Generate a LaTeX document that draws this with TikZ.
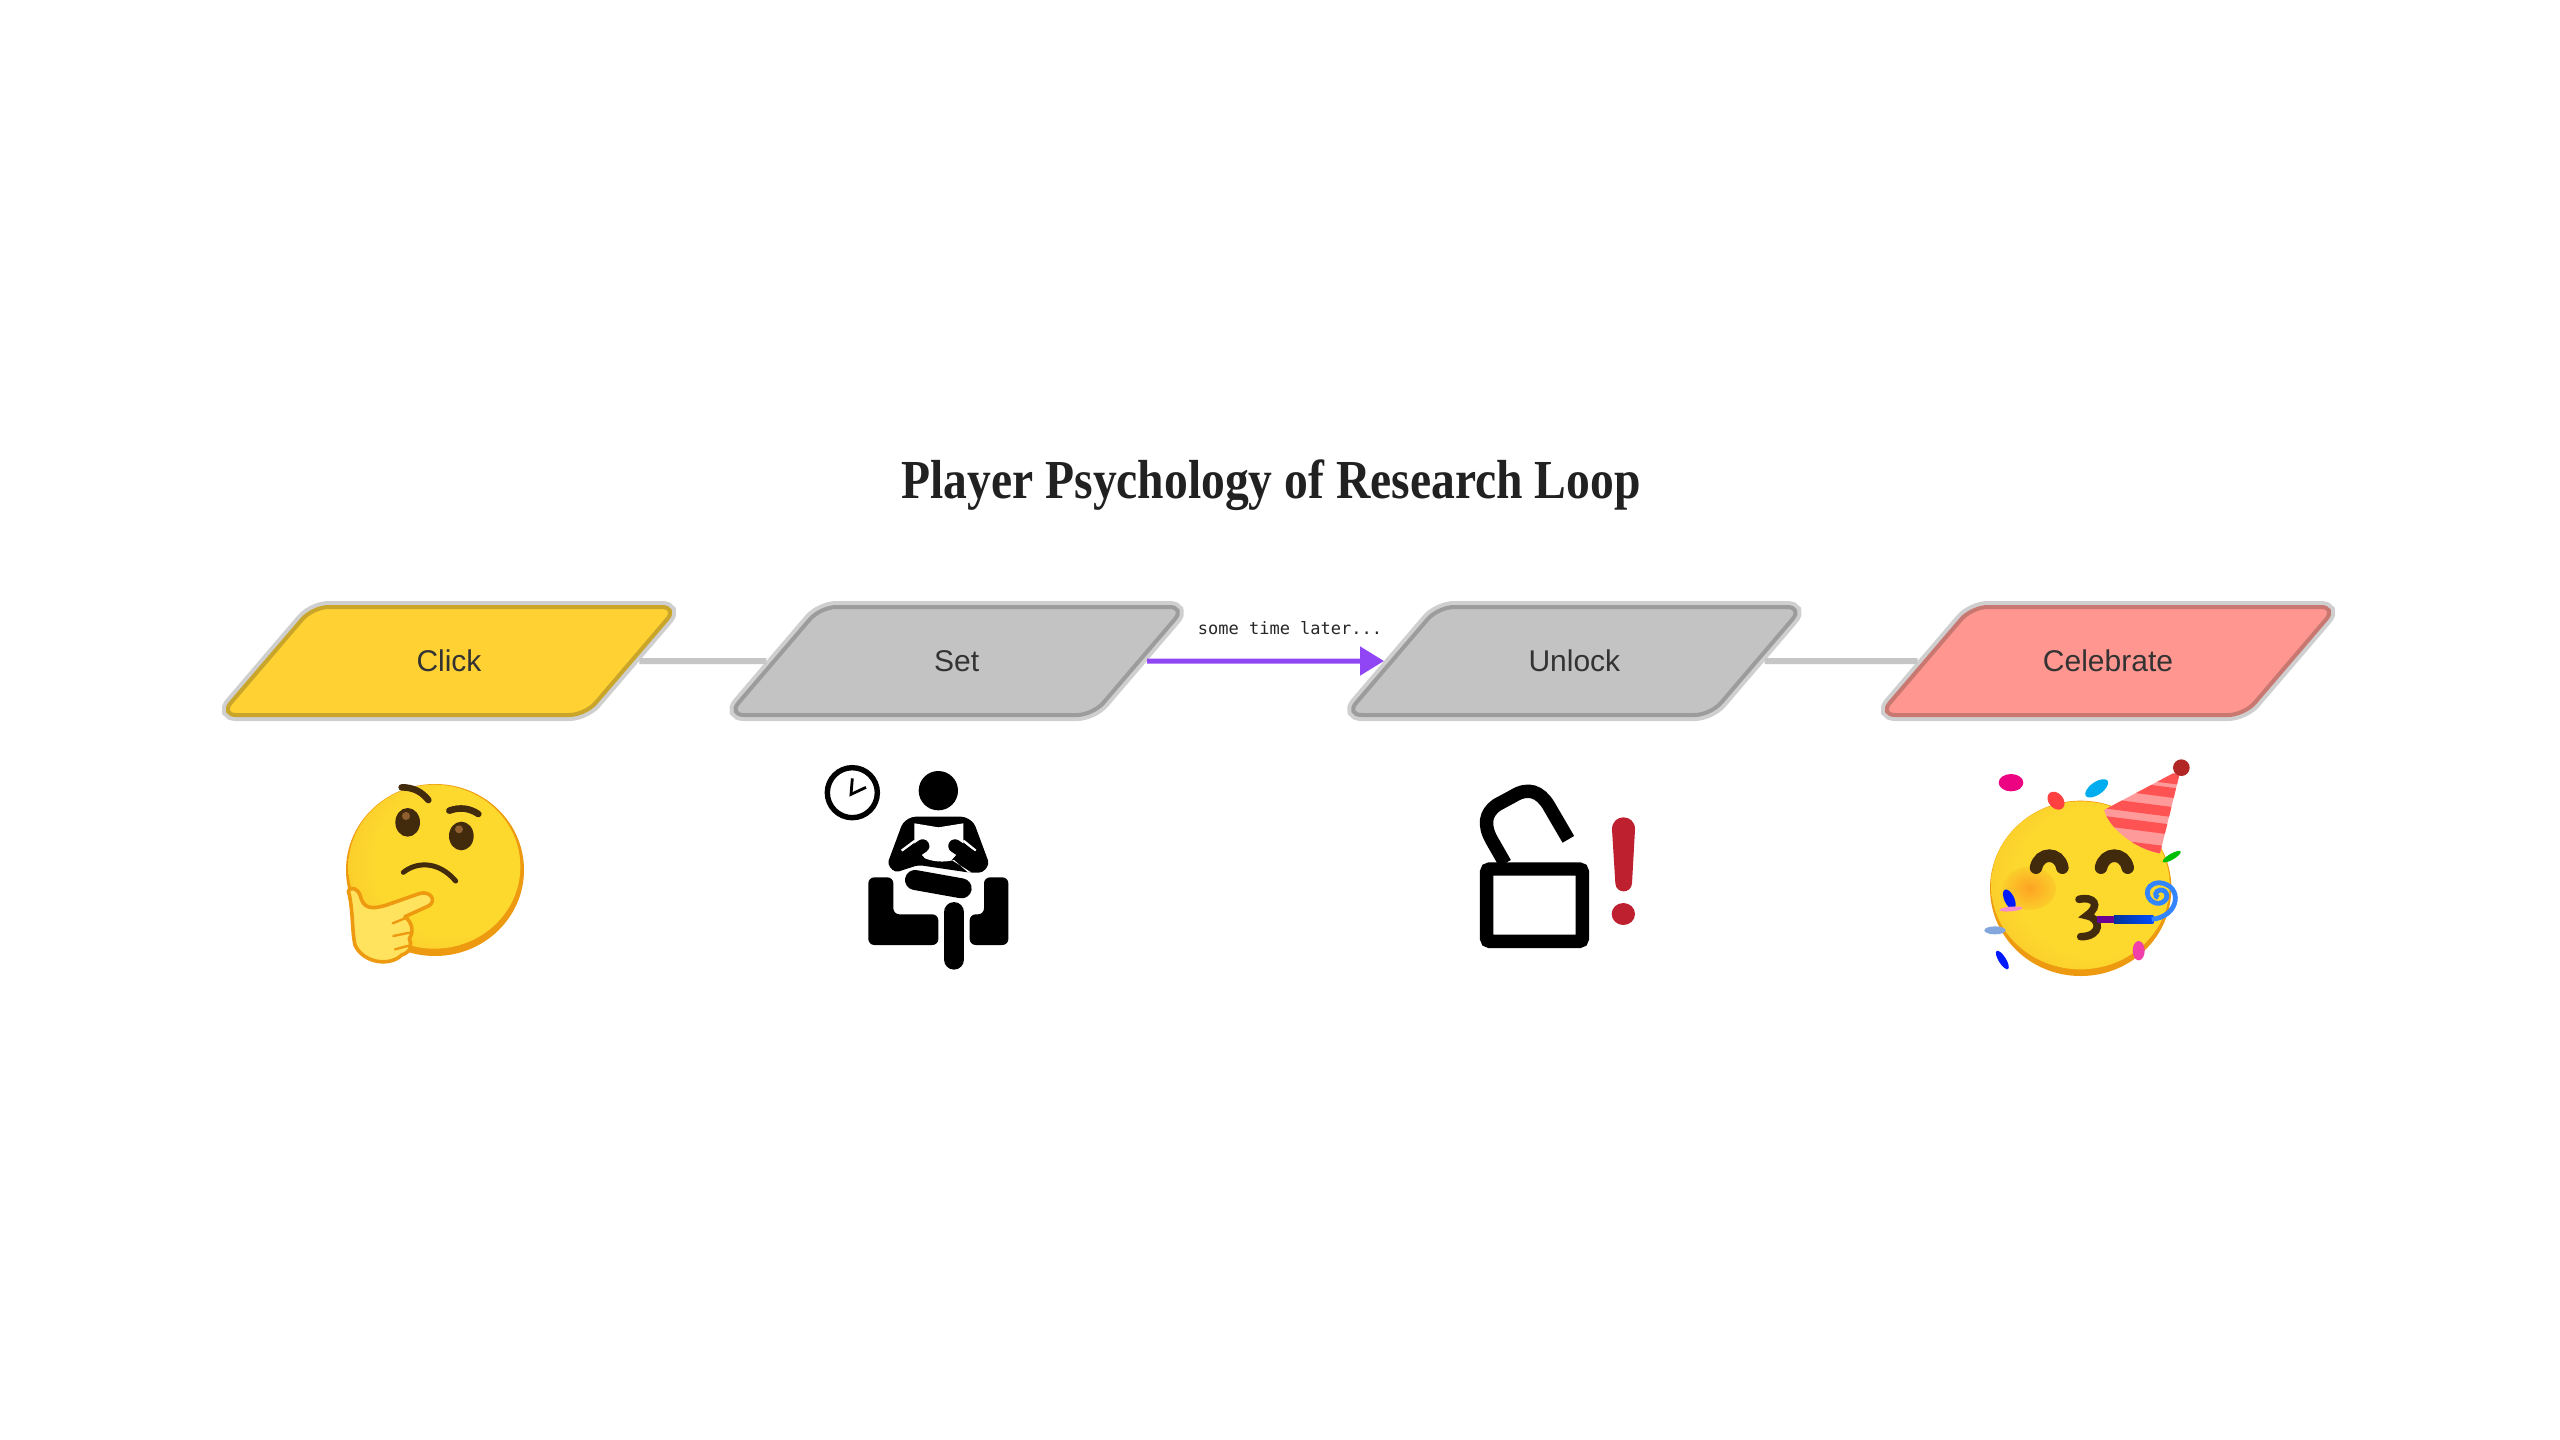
\documentclass[tikz,border=0pt]{standalone}
\usepackage{xcolor}
\usepackage{fontspec}
\usepackage{tikz}
\usetikzlibrary{arrows.meta, positioning, shapes.geometric}

\newfontfamily\titlefont{Liberation Serif}[FakeStretch=0.865]
\newfontfamily\stagefont{Liberation Sans}
\newfontfamily\notefont{DejaVu Sans Mono}

\definecolor{clickfill}{HTML}{FFD133}
\definecolor{clickline}{HTML}{C9A52A}
\definecolor{waitfill}{HTML}{C3C3C3}
\definecolor{waitline}{HTML}{9C9C9C}
\definecolor{partyfill}{HTML}{FF9790}
\definecolor{partyline}{HTML}{C97771}
\definecolor{halogray}{HTML}{CFCFCF}
\definecolor{linkgray}{HTML}{C6C6C6}
\definecolor{latepurple}{HTML}{9146F5}
\definecolor{facerim}{HTML}{EE9A10}
\definecolor{facecore}{HTML}{FDD92E}
\definecolor{faceedge}{HTML}{F5AC22}
\definecolor{facedark}{HTML}{422B0D}
\definecolor{alarmred}{HTML}{BE2030}
\definecolor{handfill}{HTML}{FFE35E}
\definecolor{hatlight}{HTML}{FF9A9A}
\definecolor{hatred}{HTML}{FF5252}

\pgfdeclareradialshading{facefill}{\pgfpoint{8bp}{2bp}}{
  color(0bp)=(facecore); color(22bp)=(facecore); color(50bp)=(faceedge)}

% same text box in every stage, so that all of them get the same slant
\newcommand{\stagelabel}[1]{\makebox[31pt][c]{#1}}

\begin{document}
\begin{tikzpicture}[>=Stealth, x=0.5pt, y=-0.5pt]

        % Styles
        \tikzstyle{stage} = [trapezium, trapezium left angle=45, trapezium right angle=135,
            trapezium stretches=true, minimum width=229pt, minimum height=54pt,
            inner sep=0pt, outer sep=3pt, rounded corners=8pt, line width=2pt,
            text height=10.5pt, text depth=0pt,
            text=black!80, font=\stagefont\fontsize{15}{18}\selectfont]
        \tikzstyle{clickstage} = [stage, fill=clickfill, draw=clickline, preaction={draw=halogray, line width=6pt}]
        \tikzstyle{waitstage} = [stage, fill=waitfill, draw=waitline, preaction={draw=halogray, line width=6pt}]
        \tikzstyle{partystage} = [stage, fill=partyfill, draw=partyline, preaction={draw=halogray, line width=6pt}]
        \tikzstyle{graylink} = [linkgray, line width=3pt]
        \tikzstyle{purplearrow} = [-{Triangle[length=12pt, width=14pt]}, latepurple, line width=2.5pt]
        \tikzstyle{icon} = [shift={(#1)}, x=0.16667pt, y=-0.16667pt]
        \tikzstyle{brow} = [draw=facedark, line cap=round, line width=3.3pt]

        \fill[white] (0,0) rectangle (2560,1440);
        \useasboundingbox (0,0) rectangle (2560,1440);

        % Title
        \node[text=black!87, font=\titlefont\bfseries\fontsize{27.5}{32}\selectfont] (title) at (1271,485) {Player Psychology of Research Loop};

        % Stages
        \node[clickstage] (click) at (449,661) {\stagelabel{Click}};
        \node[waitstage, right=63.5pt of click] (set) {\stagelabel{Set}};
        \node[waitstage, right=118.5pt of set] (unlock) {\stagelabel{Unlock}};
        \node[partystage, right=76.5pt of unlock] (celebrate) {\stagelabel{Celebrate}};

        % Arrows
        \draw[graylink] (click) -- (set);
        \draw[purplearrow] (set) -- (unlock);
        \draw[graylink] (unlock) -- (celebrate);
        \node[font=\notefont\fontsize{8.5}{10}\selectfont, text=black!85] (later) at (1290,628) {some time later...};

        % Thinking face
        \begin{scope}[icon={320,770}]
            \fill[facerim] (345,300) ellipse [x radius=267, y radius=258];
            \shade[shading=facefill] (343,290) ellipse [x radius=258, y radius=246];
            \draw[brow] (245,52) .. controls (280,52) and (305,65) .. (325,90);
            \draw[brow] (388,122) .. controls (420,110) and (450,115) .. (475,132);
            \fill[facedark] (263,157) ellipse [x radius=37, y radius=43];
            \fill[facedark] (424,198) ellipse [x radius=37, y radius=43];
            \fill[brown!75!black] (258,138) circle [radius=12];
            \fill[brown!75!black] (417,178) circle [radius=12];
            \draw[facedark, line cap=round, line width=2.5pt] (250,307) .. controls (290,275) and (355,272) .. (407,333);
            % thumb and fingers
            \filldraw[draw=facerim, line width=1.8pt, fill=handfill, line join=round]
                (85,362) .. controls (95,350) and (112,355) .. (120,375)
                .. controls (130,415) and (150,420) .. (200,405)
                -- (300,370) .. controls (335,362) and (350,395) .. (325,408)
                -- (255,440) .. controls (280,460) and (280,490) .. (268,505)
                .. controls (275,525) and (275,545) .. (245,555)
                .. controls (210,590) and (130,580) .. (105,525)
                .. controls (95,480) and (100,420) .. (85,362) -- cycle;
            \draw[facerim, line width=1.2pt, line cap=round] (218,460) -- (262,442);
            \draw[facerim, line width=1.2pt, line cap=round] (220,498) -- (268,488);
            \draw[facerim, line width=1.2pt, line cap=round] (225,538) -- (266,527);
        \end{scope}

        % Person waiting in an armchair
        \begin{scope}[icon={800,750}]
            \draw[line width=2.7pt] (157,128) circle [radius=75];
            \draw[line width=1.4pt] (157,85) -- (153,133) -- (198,112);
            \fill (415,122) circle [radius=59];
            \fill[rounded corners=2pt] (335,200) -- (495,200) -- (522,218) -- (568,342) -- (548,368)
                -- (510,368) -- (355,345) -- (285,368) -- (262,342) -- (308,218) -- cycle;
            \fill[white] (343,220) -- (415,232) -- (490,220) -- (490,290) -- (455,330) -- (515,368)
                -- (505,368) -- (462,330) .. controls (430,338) and (400,335) .. (375,325) -- (343,290) -- cycle;
            \draw[white, line width=1.2pt] (305,302) -- (345,272);
            \draw[white, line width=1.2pt] (527,302) -- (490,272);
            \draw[line width=6.7pt, line cap=round] (368,288) -- (300,335);
            \draw[line width=6.7pt, line cap=round] (465,288) -- (535,335);
            \draw[line width=10pt, line cap=round] (345,390) -- (485,415);
            % armchair
            \fill[rounded corners=3pt] (205,382) -- (280,382) -- (280,493) -- (415,493) -- (415,585)
                -- (205,585) -- cycle;
            \fill[rounded corners=3pt] (625,382) -- (552,382) -- (552,493) -- (509,493) -- (509,585)
                -- (625,585) -- cycle;
            \draw[line width=10.3pt, line cap=round] (462,487) -- (462,628);
        \end{scope}

        % Open padlock
        \begin{scope}[icon={1450,770}]
            \draw[line width=6.7pt, rounded corners=1.5pt] (110,297) rectangle (397,514);
            \draw[line width=6.7pt] (165,280) -- (125,210) .. controls (100,165) and (105,130) .. (140,105)
                -- (190,78) .. controls (235,50) and (270,65) .. (295,105) -- (355,208);
            \fill[alarmred] (486,178) .. controls (486,130) and (555,130) .. (555,178)
                -- (546,340) .. controls (544,372) and (498,372) .. (496,340) -- cycle;
            \fill[alarmred] (520,432) ellipse [x radius=35, y radius=33];
        \end{scope}

        % Party face
        \begin{scope}[icon={1950,740}]
            \fill[facerim] (392,445) ellipse [x radius=272, y radius=263];
            \shade[shading=facefill] (391,436) ellipse [x radius=268, y radius=252];
            \shade[inner color=red!25!facecore, outer color=facecore!75!faceedge] (238,445) ellipse [x radius=80, y radius=65];
            \draw[facedark, line width=6.3pt, line cap=round] (258,383) .. controls (268,335) and (328,335) .. (337,383);
            \draw[facedark, line width=6.3pt, line cap=round] (453,383) .. controls (463,335) and (523,335) .. (533,383);
            \draw[facedark, line width=3.8pt, line cap=round] (387,478) .. controls (430,468) and (455,495) .. (410,527)
                .. controls (455,535) and (455,590) .. (392,590);
            % party hat
            \begin{scope}
                \clip (692,88) -- (462,210) .. controls (480,270) and (560,328) .. (630,340) -- cycle;
                \fill[hatlight] (440,60) rectangle (720,350);
                \foreach \ypos in {105,147,205,258,325} {
                    \draw[hatred, line width=5pt] (440,\ypos-18) -- (720,\ypos+18);
                }
            \end{scope}
            \fill[red!65!black!85!white] (694,83) circle [radius=25];
            % blower
            \fill[violet!85!blue] (440,527) rectangle (492,549);
            \shade[left color=blue!50!teal!80!black, right color=blue!70!cyan] (492,527) rectangle (610,549);
            \draw[blue!60!cyan!80!white, line width=2.4pt] (605,538) .. controls (690,530) and (700,435) .. (628,428)
                .. controls (575,430) and (585,492) .. (628,490) .. controls (660,485) and (655,447) .. (630,450) .. controls (615,452) and (612,470) .. (625,473);
            % confetti
            \fill[magenta!90!red] (183,128) ellipse [x radius=37, y radius=26];
            \fill[red!75!white] (318,182) ellipse [x radius=30, y radius=22, rotate=-50];
            \fill[cyan] (440,145) ellipse [x radius=40, y radius=19, rotate=35];
            \fill[green!75!black] (665,350) ellipse [x radius=31, y radius=9, rotate=30];
            \fill[blue!90!cyan] (178,478) ellipse [x radius=32, y radius=15, rotate=-65];
            \fill[magenta!45!white] (183,507) ellipse [x radius=35, y radius=7, rotate=5];
            \fill[cyan!50!blue!50!white] (135,571) ellipse [x radius=32, y radius=12];
            \fill[blue!90!cyan] (157,660) ellipse [x radius=32, y radius=11, rotate=-58];
            \fill[magenta!75!white] (566,632) ellipse [x radius=18, y radius=29];
        \end{scope}

\end{tikzpicture}
\end{document}
